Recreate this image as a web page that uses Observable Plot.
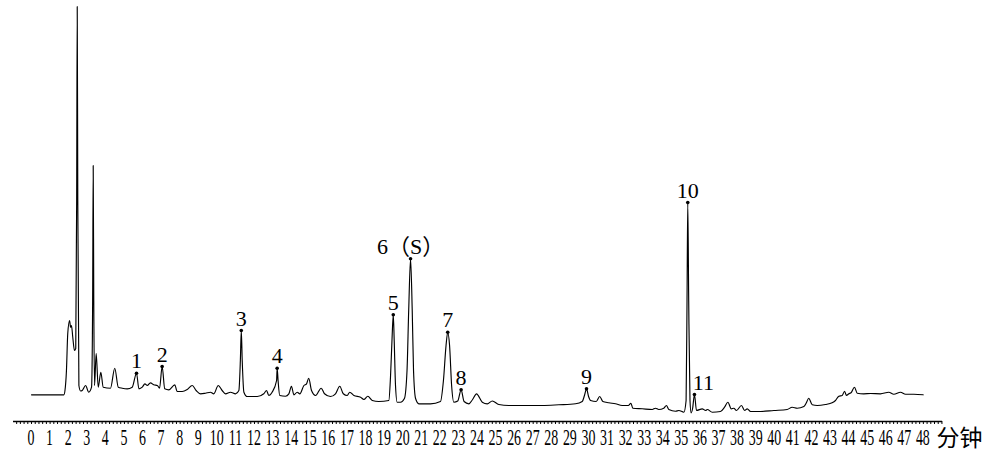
<!DOCTYPE html>
<html><head><meta charset="utf-8">
<script src="https://cdn.jsdelivr.net/npm/d3@7"></script>
<script src="https://cdn.jsdelivr.net/npm/@observablehq/plot@0.6"></script>
<style>body{margin:0;background:#fff}</style>
</head><body><div id="chart"></div>
<script>
// retention time (min)
const times = [
  0, 1.74, 1.80, 1.88, 1.95, 2.05, 2.10, 2.15, 2.22, 2.31,
  2.38, 2.43, 2.46, 2.49, 2.55, 2.64, 2.73, 2.91, 3.08, 3.23,
  3.29, 3.32, 3.35, 3.39, 3.48, 3.59, 3.73, 3.86, 4.25, 4.48,
  4.67, 4.88, 5.15, 5.42, 5.65, 5.78, 5.96, 6.10, 6.23, 6.40,
  6.58, 6.77, 6.89, 7.03, 7.17, 7.39, 7.71, 7.84, 8.11, 8.38,
  8.65, 8.86, 9.10, 9.36, 9.63, 9.81, 10.05, 10.26, 10.44, 10.71,
  10.98, 11.16, 11.24, 11.29, 11.34, 11.43, 11.61, 12.15, 12.50, 12.65,
  12.77, 12.95, 13.19, 13.22, 13.27, 13.36, 13.67, 13.85, 13.99, 14.12,
  14.30, 14.44, 14.66, 14.80, 14.92, 15.07, 15.29, 15.59, 15.77, 16.09,
  16.36, 16.59, 16.78, 16.99, 17.13, 17.35, 17.71, 17.89, 18.10, 18.34,
  18.69, 19.23, 19.32, 19.40, 19.47, 19.52, 19.59, 19.68, 19.86, 20.07,
  20.21, 20.30, 20.40, 20.49, 20.56, 20.67, 20.85, 21.47, 22.01, 22.17,
  22.31, 22.40, 22.50, 22.61, 22.73, 22.94, 23.12, 23.28, 23.54, 23.74,
  23.95, 24.26, 24.53, 24.80, 25.15, 25.69, 26.59, 27.49, 28.38, 29.28,
  29.64, 29.76, 29.87, 29.98, 30.09, 30.39, 30.58, 30.75, 31.07, 31.43,
  31.79, 32.12, 32.26, 32.36, 32.87, 33.41, 33.58, 33.76, 34.03, 34.17,
  34.30, 34.66, 34.84, 35.11, 35.23, 35.28, 35.32, 35.37, 35.44, 35.50,
  35.58, 35.68, 35.79, 36.10, 36.28, 36.37, 36.64, 37.08, 37.30, 37.48,
  37.66, 37.80, 37.94, 38.21, 38.38, 38.52, 38.70, 39.24, 39.95, 40.67,
  40.94, 41.21, 41.57, 41.71, 41.83, 42.02, 42.29, 42.73, 43.09, 43.27,
  43.45, 43.63, 43.76, 43.86, 43.99, 44.12, 44.29, 44.44, 44.79, 45.16,
  45.69, 46.14, 46.41, 46.77, 47.04, 47.49, 47.99
];
// detector signal (arbitrary units)
const signal = [
  10.7, 10.7, 15, 35, 72, 85, 78.3, 80, 68.3, 55,
  57, 205, 399, 205, 20, 14.5, 15, 20, 13.3, 18.3,
  105, 240, 105, 20, 52, 18.3, 33.3, 18.3, 17.3, 37.3,
  18.3, 17.3, 16.7, 18.3, 32.3, 16.7, 18.3, 21.7, 20, 22.7,
  20.7, 20, 17.3, 39, 16.7, 15.7, 20.7, 14, 14, 16,
  20, 15, 11.7, 12.3, 13.3, 11.7, 20, 15, 11.7, 13.3,
  11.7, 15, 45, 75, 45, 13.3, 9, 9, 11.7, 15,
  10, 13.3, 25, 37.3, 25, 10, 9.3, 11.7, 19.3, 10.7,
  13.3, 11.7, 20, 21.7, 27.3, 15, 10, 17.3, 11.7, 9,
  11.7, 19.3, 11.7, 10, 13.3, 10, 8.3, 6, 9.3, 5,
  4, 5, 28.3, 65, 90.7, 65, 20, 3.3, 3.3, 7,
  35, 95, 146.7, 95, 35, 7, 1.7, 1.7, 4, 25,
  60, 73.3, 60, 20, 3.3, 4.5, 15.7, 4, 1.7, 6,
  11.7, 3.3, 1.7, 4.5, 1, 0, 0, 0, 0.7, 1.7,
  4, 10, 16.7, 9, 5, 4, 9, 4, 2.7, 1.7,
  0, 0, 2.3, -2.7, -3.3, -4, -2.7, -4, -2.7, 0,
  -4, -5.7, -5, -6.7, 5, 105, 203, 105, 5, -7.3,
  -3, 11, -5, -3.3, -5, -4, -6.7, -6, -1.7, 3.3,
  -3.3, -2.7, -5, 0, -5, -3.3, -6, -6, -5, -4,
  -1.7, -2.7, -1, 3, 7.3, 0.7, 0, 1, 2.7, 5,
  9.3, 10, 14.3, 10, 11.7, 13, 18.3, 12.3, 11.7, 12,
  11.7, 13.3, 11.3, 13.3, 11.3, 11.3, 10.7
];
// labelled peaks
const peakLabels = ["1", "2", "3", "4", "5", "6（S）", "7", "8", "9", "10", "11"];
const peakTimes = [5.65, 7.03, 11.29, 13.22, 19.47, 20.40, 22.40, 23.12, 29.87, 35.32, 35.68];
const peakHeights = [32.3, 39, 75, 37.3, 90.7, 146.7, 73.3, 15.7, 16.7, 203, 11];
// axis
const tickLabels = d3.range(0, 49);
const minorTicks = d3.range(-4, 246).map(i => i / 5);
const axisUnit = "分钟";

const trace = times.map((t, i) => ({t, v: signal[i]}));
const peaks = peakLabels.map((label, i) => ({label, t: peakTimes[i], v: peakHeights[i]}));
const serif = "'Liberation Serif', 'Noto Sans CJK SC', serif";

const chart = Plot.plot({
  width: 995, height: 473,
  marginLeft: 13, marginRight: 53, marginTop: 0, marginBottom: 52,
  x: {domain: [-0.97, 49.03], axis: null},
  y: {domain: [-16, 405], axis: null},
  style: {background: "white", fontFamily: serif, overflow: "visible", color: "black"},
  marks: [
    Plot.ruleY([-16], {stroke: "black", strokeWidth: 1.3}),
    Plot.axisX({ticks: minorTicks, tickSize: 3, fill: "none", stroke: "black", strokeWidth: 1, label: null}),
    Plot.line(trace, {x: "t", y: "v", stroke: "black", strokeWidth: 1.15, curve: "monotone-x"}),
    Plot.dot(peaks, {x: "t", y: "v", r: 1.8, fill: "black"}),
    Plot.text(peaks.filter(d => d.label !== "11"), {x: "t", y: "v", text: "label", lineAnchor: "bottom", dy: -5, fontSize: 22, fontFamily: serif, fill: "black"}),
    Plot.text(peaks.filter(d => d.label === "11"), {x: "t", y: "v", text: "label", lineAnchor: "bottom", dy: -5, dx: 9, fontSize: 22, fontFamily: serif, fill: "black"}),
    Plot.text([axisUnit], {frameAnchor: "bottom-right", textAnchor: "start", lineAnchor: "middle", dx: -6, dy: 17, fontSize: 23, fontFamily: "'Noto Sans CJK SC'", fill: "black"})
  ]
});

// tick labels in a condensed serif face, placed with Plot's own x scale
const xs = chart.scale("x");
const labels = d3.select(chart).append("g")
  .attr("aria-label", "x-axis tick label")
  .attr("font-family", serif).attr("font-size", 24)
  .attr("fill", "black").attr("text-anchor", "middle");
tickLabels.forEach(d => {
  labels.append("text")
    .attr("transform", `translate(${xs.apply(d)},445) scale(0.58,1)`)
    .text(String(d));
});

document.getElementById("chart").appendChild(chart);
</script>
</body></html>
